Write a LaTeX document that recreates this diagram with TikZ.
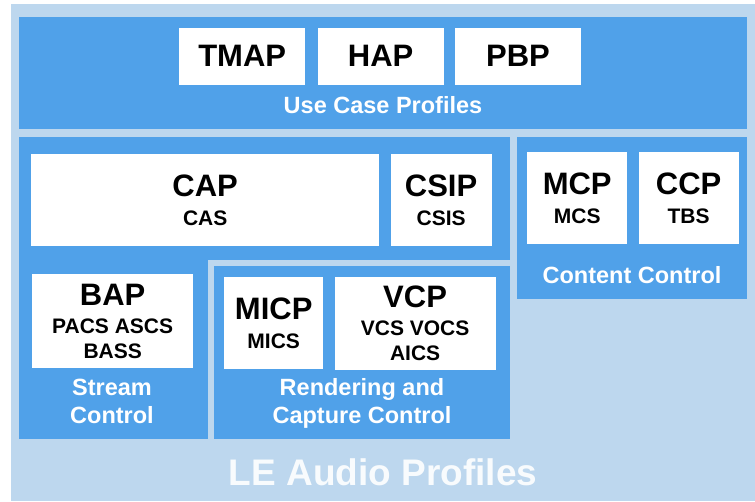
\documentclass[tikz,border=0pt]{standalone}
\usepackage{fontspec}
\setmainfont{Liberation Sans}
\usepackage{tikz}
\usetikzlibrary{positioning}
\definecolor{paleblue}{RGB}{189,215,238}
\definecolor{midblue}{RGB}{80,161,233}
\tikzstyle{panel} = [rectangle, fill=midblue, inner sep=0pt, anchor=north west]
\tikzstyle{prof}  = [rectangle, fill=white, inner sep=0pt, align=center,
                     text=black, font=\fontsize{21}{25}\selectfont\bfseries]
\tikzstyle{top}   = [prof, font=\fontsize{31}{31}\selectfont\bfseries]
\tikzstyle{grp}   = [text=white, inner sep=0pt, align=center,
                     font=\fontsize{23.5}{28}\selectfont\bfseries]
\newcommand{\profname}[2]{
  {\fontsize{31}{31}\selectfont #1}\\[3.5pt]#2
}

\begin{document}
\begin{tikzpicture}[x=1pt, y=-1pt]
		\useasboundingbox (0,0) rectangle (755,501);
		\fill[paleblue] (11,4) rectangle (755,501);

		% use case profiles
		\node[panel, minimum width=728pt, minimum height=112pt] (usecase) at (19,17) {};
		\node[top, anchor=north west, minimum width=126pt, minimum height=57pt, text depth=2pt] (tmap) at (179,28) {TMAP};
		\node[top, right=12pt of tmap, minimum width=126pt, minimum height=57pt, text depth=2pt] (hap) {HAP};
		\node[top, right=11pt of hap, minimum width=126pt, minimum height=57pt, text depth=2pt] (pbp) {PBP};
		\node[grp, anchor=base] (usecaselbl) at (383,113) {Use Case Profiles};

		% core, stream and rendering
		\node[panel, minimum width=491pt, minimum height=302pt] (core) at (19,137) {};
		\node[panel, anchor=center, draw=paleblue, line width=6.5pt, minimum width=302.5pt,
			minimum height=179.5pt] (render) at (362,352.5) {};
		\node[prof, anchor=north west, minimum width=348pt, minimum height=92pt] (cap) at (31,154) {\profname{CAP}{CAS}};
		\node[prof, right=11pt of cap, minimum width=101pt, minimum height=92pt] (csip) {\profname{CSIP}{CSIS}};
		\node[prof, anchor=north west, minimum width=161pt, minimum height=94pt] (bap) at (32,274) {\profname{BAP}{PACS ASCS\\BASS}};
		\node[grp, anchor=base] (streamlbl) at (112,423) {Stream\\Control};
		\node[prof, anchor=north west, minimum width=99pt, minimum height=92pt] (micp) at (224,277) {\profname{MICP}{MICS}};
		\node[prof, right=11pt of micp, minimum width=161pt, minimum height=93pt] (vcp) {\profname{VCP}{VCS VOCS\\AICS}};
		\node[grp, anchor=base] (renderlbl) at (362,423) {Rendering and\\Capture Control};

		% content control
		\node[panel, minimum width=230pt, minimum height=162pt] (content) at (517,137) {};
		\node[prof, anchor=north west, minimum width=100pt, minimum height=92pt] (mcp) at (527,152) {\profname{MCP}{MCS}};
		\node[prof, right=11pt of mcp, minimum width=100pt, minimum height=92pt] (ccp) {\profname{CCP}{TBS}};
		\node[grp, anchor=base] (contentlbl) at (632,283) {Content Control};

		\node[grp, anchor=base, text=white!90!paleblue, font=\fontsize{37}{37}\selectfont\bfseries] (lelbl) at (383,485) {LE Audio Profiles};
	\end{tikzpicture}
\end{document}
